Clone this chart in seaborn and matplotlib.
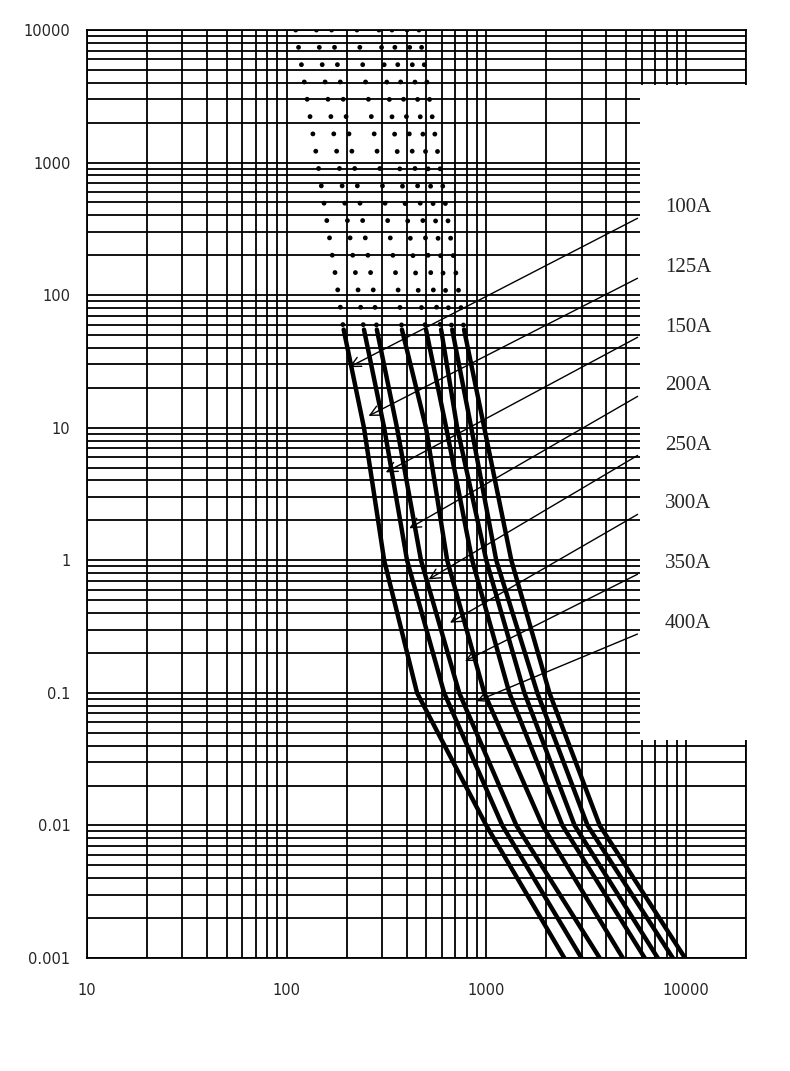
import numpy as np
import matplotlib
matplotlib.use("Agg")
import matplotlib.pyplot as plt
import seaborn as sns
from matplotlib.patches import Rectangle

# fuse ratings
ratings = ["100A", "125A", "150A", "200A", "250A", "300A", "350A", "400A"]

# dotted (upper) part: current at time levels
dot_time = [10000, 1000, 100, 55]
dot_current = [
    [111, 143, 182, 193],
    [141, 182, 230, 244],
    [168, 217, 274, 283],
    [225, 290, 365, 378],
    [290, 365, 460, 499],
    [337, 435, 548, 594],
    [401, 506, 630, 675],
    [460, 581, 732, 774],
]

# solid (lower) part
solid_time = [55, 10, 1, 0.1, 0.01, 0.001]
solid_current = [
    [193, 244, 308, 450, 1000, 2460],
    [244, 308, 401, 615, 1203, 3000],
    [283, 357, 471, 732, 1415, 3700],
    [378, 499, 637, 977, 1912, 4830],
    [499, 630, 850, 1305, 2407, 6220],
    [594, 715, 1000, 1552, 2770, 7230],
    [675, 841, 1122, 1802, 3215, 8600],
    [774, 977, 1335, 2072, 3700, 9900],
]

# arrow targets (current, time) for each label
arrow_tip = [(200, 28), (250, 12), (305, 4.5), (400, 1.7), (500, 0.7),
             (640, 0.33), (760, 0.17), (870, 0.085)]

sns.set_theme(style="white")
plt.rcParams["font.family"] = ["DejaVu Sans"]

fig = plt.figure(figsize=(7.9, 10.71), dpi=100)
ax = fig.add_axes([87 / 790, 1 - 958 / 1071, 659 / 790, 928 / 1071])
ax.set_xscale("log")
ax.set_yscale("log")
ax.set_xlim(10, 20000)
ax.set_ylim(0.001, 10000)

ax.grid(True, which="both", color="black", linewidth=1.3)
ax.set_axisbelow(True)
for s in ax.spines.values():
    s.set_color("black")
    s.set_linewidth(1.3)
ax.tick_params(which="both", length=0, labelsize=10.5)
ax.set_xticks([10, 100, 1000, 10000])
ax.set_xticklabels(["10", "100", "1000", "10000"])
ax.set_yticks([0.001, 0.01, 0.1, 1, 10, 100, 1000, 10000])
ax.set_yticklabels(["0.001", "0.01", "0.1", "1", "10", "100", "1000", "10000"])
ax.tick_params(axis="x", pad=18)
ax.tick_params(axis="y", pad=12)

for i in range(len(ratings)):
    sns.lineplot(x=dot_current[i], y=dot_time, ax=ax, color="black",
                 linewidth=3.5, linestyle=(0, (0.01, 3.6)), sort=False,
                 dash_capstyle="round", zorder=3)
    sns.lineplot(x=solid_current[i], y=solid_time, ax=ax, color="black",
                 linewidth=3.2, sort=False, zorder=3)

# white label panel on the right
ax.add_patch(Rectangle((640 / 790, 1 - 740 / 1071), 150 / 790, 655 / 1071,
                       transform=fig.transFigure, facecolor="white",
                       edgecolor="none", zorder=4, clip_on=False))

label_y = [208, 268, 327, 386, 445, 504, 564, 624]
for name, ly, tip in zip(ratings, label_y, arrow_tip):
    fig.text(665 / 790, 1 - ly / 1071, name, fontsize=15,
             family="Liberation Serif", va="center", ha="left", zorder=5)
    ax.annotate("", xy=tip, xycoords="data",
                xytext=(640 / 790, 1 - (ly + 9) / 1071), textcoords="figure fraction",
                arrowprops=dict(arrowstyle="->", color="black", lw=1.0,
                                mutation_scale=18), zorder=5)

fig.savefig("out.png", dpi=100)
